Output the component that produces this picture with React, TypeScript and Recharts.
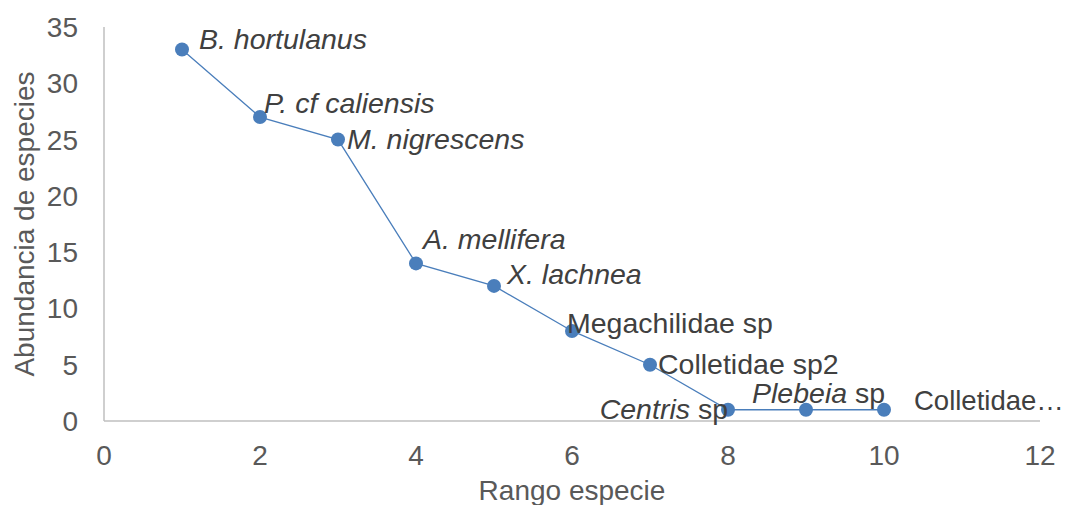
import React from "react";
import { LineChart, Line, XAxis, YAxis, LabelList } from "recharts";

const ranks = [1, 2, 3, 4, 5, 6, 7, 8, 9, 10];
const abundance = [33, 27, 25, 14, 12, 8, 5, 1, 1, 1];
const labelItalic = ["B. hortulanus", "P. cf caliensis", "M. nigrescens", "A. mellifera", "X. lachnea", "", "", "Centris", "Plebeia", ""];
const labelRegular = ["", "", "", "", "", "Megachilidae sp", "Colletidae sp2", " sp", " sp", "Colletidae…"];
const xTicks = [0, 2, 4, 6, 8, 10, 12];
const yTicks = [0, 5, 10, 15, 20, 25, 30, 35];

// label placement relative to each point (layout only)
const labelDx = [17, 4, 9, 7, 13, -5, 8, 0, -54, 30];
const labelDy = [-11, -14, -1, -24, -12, -8, -1, -1, -17, -10];
const labelAnchor = ["start", "start", "start", "start", "start", "start", "start", "end", "start", "start"];

const data = ranks.map((r, i) => ({ rank: r, value: abundance[i], idx: i }));

const FONT = "'Liberation Sans', Arial, sans-serif";
const COLOR = "#4a7ebb";
const FS = 28;

const renderLabel = (props: any) => {
  const { x, y, index } = props;
  const it = labelItalic[index];
  const rg = labelRegular[index];
  return (
    <text
      x={x + labelDx[index]}
      y={y + labelDy[index]}
      textAnchor={labelAnchor[index] as any}
      dominantBaseline="central"
      fontSize={index === 9 ? 27.5 : 28.5}
      fill="#404040"
      fontFamily={FONT}
    >
      {it ? <tspan fontStyle="italic">{it}</tspan> : null}
      {rg ? <tspan>{rg}</tspan> : null}
    </text>
  );
};

export default function App() {
  return (
    <div style={{ position: "absolute", left: 0, top: 0, width: 1070, height: 505, background: "#fff" }}>
      <LineChart width={1070} height={505} data={data} margin={{ top: 27, right: 30, left: 0, bottom: 0 }}>
        <XAxis
          dataKey="rank"
          type="number"
          domain={[0, 12]}
          ticks={xTicks}
          interval={0}
          height={84}
          tickSize={0}
          tickMargin={24}
          axisLine={{ stroke: "#bfbfbf", strokeWidth: 1.5 }}
          tickLine={false}
          tick={{ fill: "#595959", fontSize: FS, fontFamily: FONT }}
          label={(p: any) => {
            const vb = p.viewBox;
            return (
              <text x={vb.x + vb.width / 2} y={vb.y + 69} textAnchor="middle" dominantBaseline="central" fontSize={FS} fill="#595959" fontFamily={FONT}>
                Rango especie
              </text>
            );
          }}
        />
        <YAxis
          type="number"
          domain={[0, 35]}
          ticks={yTicks}
          interval={0}
          width={104}
          tickSize={0}
          tickMargin={26}
          axisLine={{ stroke: "#bfbfbf", strokeWidth: 1.5 }}
          tickLine={false}
          tick={{ fill: "#595959", fontSize: FS, fontFamily: FONT }}
          label={(p: any) => {
            const vb = p.viewBox;
            const cx = vb.x + 24;
            const cy = vb.y + vb.height / 2;
            return (
              <text x={cx} y={cy} transform={`rotate(-90 ${cx} ${cy})`} textAnchor="middle" dominantBaseline="central" fontSize={FS} fill="#595959" fontFamily={FONT}>
                Abundancia de especies
              </text>
            );
          }}
        />
        <Line
          dataKey="value"
          stroke={COLOR}
          strokeWidth={1.3}
          isAnimationActive={false}
          dot={{ r: 7, fill: COLOR, stroke: COLOR, strokeWidth: 0 }}
        >
          <LabelList dataKey="value" content={renderLabel} />
        </Line>
      </LineChart>
    </div>
  );
}
